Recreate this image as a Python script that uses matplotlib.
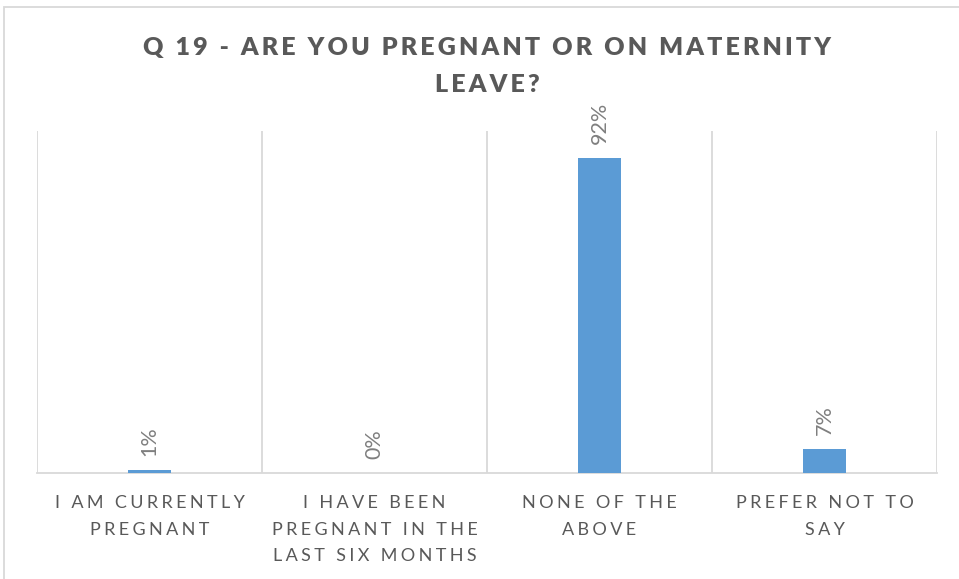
import numpy as np
import matplotlib
matplotlib.use("Agg")
import matplotlib.pyplot as plt
from matplotlib.patches import Rectangle

# DATA
categories = ["I AM CURRENTLY\nPREGNANT",
              "I HAVE BEEN\nPREGNANT IN THE\nLAST SIX MONTHS",
              "NONE OF THE\nABOVE",
              "PREFER NOT TO\nSAY"]
values = [1, 0, 92, 7]
value_labels = ["1%", "0%", "92%", "7%"]
title = "Q 19 - ARE YOU PREGNANT OR ON MATERNITY\nLEAVE?"

FONT = ["Lato", "DejaVu Sans"]
BAR = "#5B9BD5"
GRID = "#D9D9D9"
TXT = "#595959"


def spaced(s, sep="\u2009"):
    # fake letter spacing like the Office chart style
    return "\n".join(sep.join(list(line)) for line in s.split("\n"))


fig = plt.figure(figsize=(9.59, 5.79), dpi=100)
ax = fig.add_axes([37 / 959, 106 / 579, 900 / 959, 342 / 579])

x = np.arange(len(values))
ax.bar(x, values, width=0.19, color=BAR, zorder=3)
ax.set_xlim(-0.5, len(values) - 0.5)
ax.set_ylim(0, 100)

# category separators
for b in np.arange(-0.5, len(values), 1.0):
    ax.axvline(b, color=GRID, lw=1.3, zorder=1)

for s in ["top", "left", "right"]:
    ax.spines[s].set_visible(False)
ax.spines["bottom"].set_color(GRID)
ax.spines["bottom"].set_linewidth(1.3)
ax.set_yticks([])
ax.set_xticks(x)
ax.set_xticklabels([spaced(c, "\u2009\u200a") for c in categories], family=FONT,
                   fontsize=13, color=TXT, linespacing=1.8)
ax.tick_params(axis="x", length=0, pad=16)

for xi, v, lab in zip(x, values, value_labels):
    ax.annotate(lab, (xi, v), xytext=(0, 10), textcoords="offset points",
                rotation=90, ha="center", va="bottom", family=FONT,
                fontsize=15.5, color="#7F7F7F")

fig.text(487 / 959, 1 - 66.5 / 579, spaced(title, "\u2009"), ha="center", va="center",
         family=FONT, fontsize=18, fontweight="heavy", color=TXT, linespacing=1.8)

# chart frame
fig.patches.append(Rectangle((4 / 959, -0.01), 1.0, 1 - 7 / 579 + 0.01,
                             transform=fig.transFigure, fill=False,
                             edgecolor=GRID, lw=1.3))

plt.savefig("out.png", dpi=100)
plt.close()
